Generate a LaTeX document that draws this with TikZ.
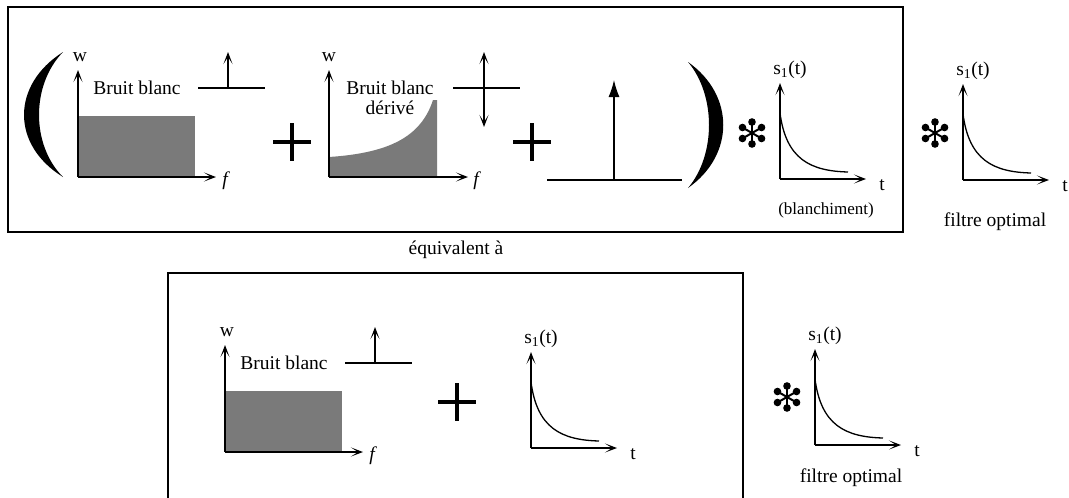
\documentclass[tikz,border=0pt]{standalone}
\usepackage{fontspec}
\setmainfont{Liberation Serif}
\usetikzlibrary{arrows.meta,positioning}

\begin{document}
\begin{tikzpicture}[x=1pt,y=-1pt,
  axis/.style={line width=1.3pt,-{Stealth[length=12pt,width=9pt,inset=7pt]}},
  base/.style={line width=1.3pt},
  lbl/.style={font=\fontsize{19.5}{22}\selectfont, inner sep=0pt},
  shade/.style={fill=black!52},
  cross/.style={line width=3.2pt},
  frame/.style={line width=1.2pt},
  conv/.pic={
    \foreach \a in {90,30,-30,-90,-150,150} {
      \draw[line width=2pt] (0,0) -- (\a:9);
      \fill (\a-9:9) -- (\a:15) -- (\a+9:9) -- cycle;
      \fill (\a:11) circle (3.8);
    }
  }
]
\useasboundingbox (0,0) rectangle (1069,498);

% cadres
\draw[frame] (8,7) rectangle (903,232);
\draw[frame] (168,500) -- (168,273) -- (743,273) -- (743,500);

% parentheses
\fill (63,52) .. controls (11,85) and (11,145) .. (63,177)
  .. controls (31,145) and (31,85) .. (63,52) -- cycle;
\fill (688,62) .. controls (735,95) and (735,155) .. (688,188)
  .. controls (716,155) and (716,95) .. (688,62) -- cycle;

% bruit blanc
\foreach \ox/\oy/\nm in {78/177/wa, 225/452/wb} {
  \begin{scope}[shift={(\ox,\oy)}]
    \fill[shade] (0,0) rectangle (117,-61);
    \draw[axis] (0,0) -- (0,-107);
    \draw[axis] (0,0) -- (138,0);
    \node[lbl] (\nm-w) at (2,-120) {w};
    \node[lbl, font=\fontsize{19.5}{22}\selectfont\itshape] (\nm-f) at (147,4) {f};
    \node[lbl] (\nm-txt) at (59,-89) {Bruit blanc};
    \draw[base] (120,-89) -- (187,-89);
    \draw[axis] (150,-89) -- (150,-125);
  \end{scope}
}

% bruit blanc derive
\begin{scope}[shift={(329,177)}]
  \fill[shade] (0,-20) .. controls (60,-24) and (92,-40) .. (104,-77)
    -- (108,-77) -- (108,0) -- (0,0) -- cycle;
  \draw[axis] (0,0) -- (0,-107);
  \draw[axis] (0,0) -- (139,0);
  \node[lbl] (dw) at (0,-120) {w};
  \node[lbl, font=\fontsize{19.5}{22}\selectfont\itshape] (df) at (147,4) {f};
  \node[lbl] (dtxt) at (61,-89) {Bruit blanc};
  \node[lbl] (dtxt2) at (61,-69) {dérivé};
  \draw[base] (124,-89) -- (191,-89);
  \draw[axis] (155,-89) -- (155,-125);
  \draw[axis] (155,-89) -- (155,-50);
\end{scope}

% impulsion
\draw[base] (547,180) -- (682,180);
\draw[base,-{Latex[length=17pt,width=11pt]}] (614,180) -- (614,80);

% reponses s1(t)
\foreach \ox/\oy/\nm in {780/179/sa, 963/180/sb, 531/448/sc, 815/445/sd} {
  \begin{scope}[shift={(\ox,\oy)}]
    \draw[axis] (0,0) -- (0,-96);
    \draw[axis] (0,0) -- (86,0);
    \draw[base] (0,-66) .. controls (6,-20) and (30,-8) .. (68,-7);
    \node[lbl] (\nm-s) at (10,-109) {s\textsubscript{1}(t)};
    \node[lbl] (\nm-t) at (102,6) {t};
  \end{scope}
}

% operateurs
\foreach \px/\py in {292/142, 532/142, 457/402}
  \draw[cross] (\px-19,\py) -- (\px+19,\py) (\px,\py-19) -- (\px,\py+19);
\pic (ca) at (752,133) {conv};
\pic (cb) at (935,133) {conv};
\pic (cc) at (787,397) {conv};

\node[lbl, font=\fontsize{17}{20}\selectfont] (blanch) at (826,210) {(blanchiment)};
\node[lbl] (opt1) at (995,222) {filtre optimal};
\node[lbl] (opt2) at (851,478) {filtre optimal};
\node[lbl] (equiv) at (456,250) {équivalent à};
\end{tikzpicture}
\end{document}
